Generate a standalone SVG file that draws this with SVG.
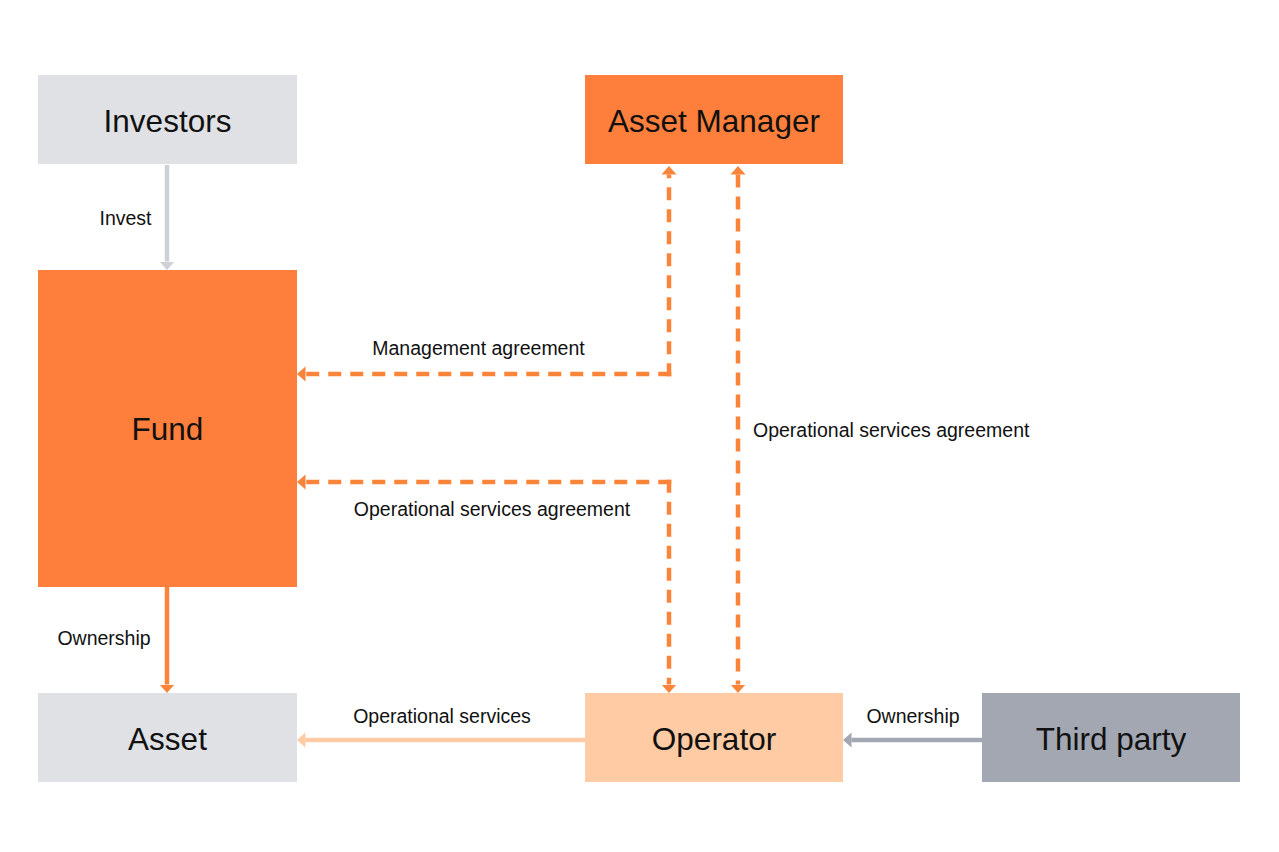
<svg xmlns="http://www.w3.org/2000/svg" width="1279" height="852" viewBox="0 0 1279 852">
<style>
.node-label{font-family:"Liberation Sans",Arial,sans-serif;font-size:31.5px;fill:#111;text-anchor:middle}
.lbl{font-family:"Liberation Sans",Arial,sans-serif;font-size:19.5px;fill:#111}
.dash{fill:none;stroke:#f9843a;stroke-width:4.5;stroke-dasharray:13 9}
.solid{fill:none;stroke-width:4.5}
</style>
<defs>
<marker id="aOr" markerUnits="userSpaceOnUse" viewBox="0 -9 10 18" refX="0" refY="0" markerWidth="10" markerHeight="18" orient="auto-start-reverse"><path d="M0,-7.5 L8.5,0 L0,7.5 z" fill="#f9843a"/></marker>
<marker id="aGr" markerUnits="userSpaceOnUse" viewBox="0 -9 10 18" refX="0" refY="0" markerWidth="10" markerHeight="18" orient="auto-start-reverse"><path d="M0,-7.5 L8.5,0 L0,7.5 z" fill="#cdd0d6"/></marker>
<marker id="aPe" markerUnits="userSpaceOnUse" viewBox="0 -9 10 18" refX="0" refY="0" markerWidth="10" markerHeight="18" orient="auto-start-reverse"><path d="M0,-7.5 L8.5,0 L0,7.5 z" fill="#ffcba4"/></marker>
<marker id="aSl" markerUnits="userSpaceOnUse" viewBox="0 -9 10 18" refX="0" refY="0" markerWidth="10" markerHeight="18" orient="auto-start-reverse"><path d="M0,-7.5 L8.5,0 L0,7.5 z" fill="#a3a7b1"/></marker>
</defs>
<rect width="1279" height="852" fill="#fff"/>
<g id="connectors">
<path class="solid" stroke="#cdd0d6" d="M167,165 V261.5" marker-end="url(#aGr)"/>
<path class="solid" stroke="#f9843a" d="M167,587 V684.5" marker-end="url(#aOr)"/>
<path class="dash" d="M671.25,374 H305.5" marker-end="url(#aOr)"/>
<path class="dash" d="M669,376.25 V174.5" marker-end="url(#aOr)"/>
<path class="dash" d="M671.25,482 H305.5" marker-end="url(#aOr)"/>
<path class="dash" d="M669,479.75 V684.5" marker-end="url(#aOr)"/>
<path class="dash" d="M738,174.5 V684.5" marker-start="url(#aOr)" marker-end="url(#aOr)"/>
<path class="solid" stroke="#ffcba4" d="M585,740 H305.5" marker-end="url(#aPe)"/>
<path class="solid" stroke="#a3a7b1" d="M982,740 H851.5" marker-end="url(#aSl)"/>
<text class="lbl" x="125.5" y="225" text-anchor="middle">Invest</text>
<text class="lbl" x="104" y="645" text-anchor="middle">Ownership</text>
<text class="lbl" x="478.5" y="355" text-anchor="middle">Management agreement</text>
<text class="lbl" x="492" y="516" text-anchor="middle">Operational services agreement</text>
<text class="lbl" x="753" y="437">Operational services agreement</text>
<text class="lbl" x="442" y="723" text-anchor="middle">Operational services</text>
<text class="lbl" x="913" y="723" text-anchor="middle">Ownership</text>
</g>
<g id="investors"><rect x="38" y="75" width="259" height="89" fill="#dfe1e4"/><text class="node-label" x="167.5" y="132">Investors</text></g>
<g id="asset-manager"><rect x="585" y="75" width="258" height="89" fill="#fe7f3b"/><text class="node-label" x="714" y="132">Asset Manager</text></g>
<g id="fund"><rect x="38" y="270" width="259" height="317" fill="#fe7f3b"/><text class="node-label" x="167.5" y="440">Fund</text></g>
<g id="asset"><rect x="38" y="693" width="259" height="89" fill="#dfe1e4"/><text class="node-label" x="167.5" y="750">Asset</text></g>
<g id="operator"><rect x="585" y="693" width="258" height="89" fill="#ffcba4"/><text class="node-label" x="714" y="750">Operator</text></g>
<g id="third-party"><rect x="982" y="693" width="258" height="89" fill="#a3a7b1"/><text class="node-label" x="1111" y="750">Third party</text></g>
</svg>
